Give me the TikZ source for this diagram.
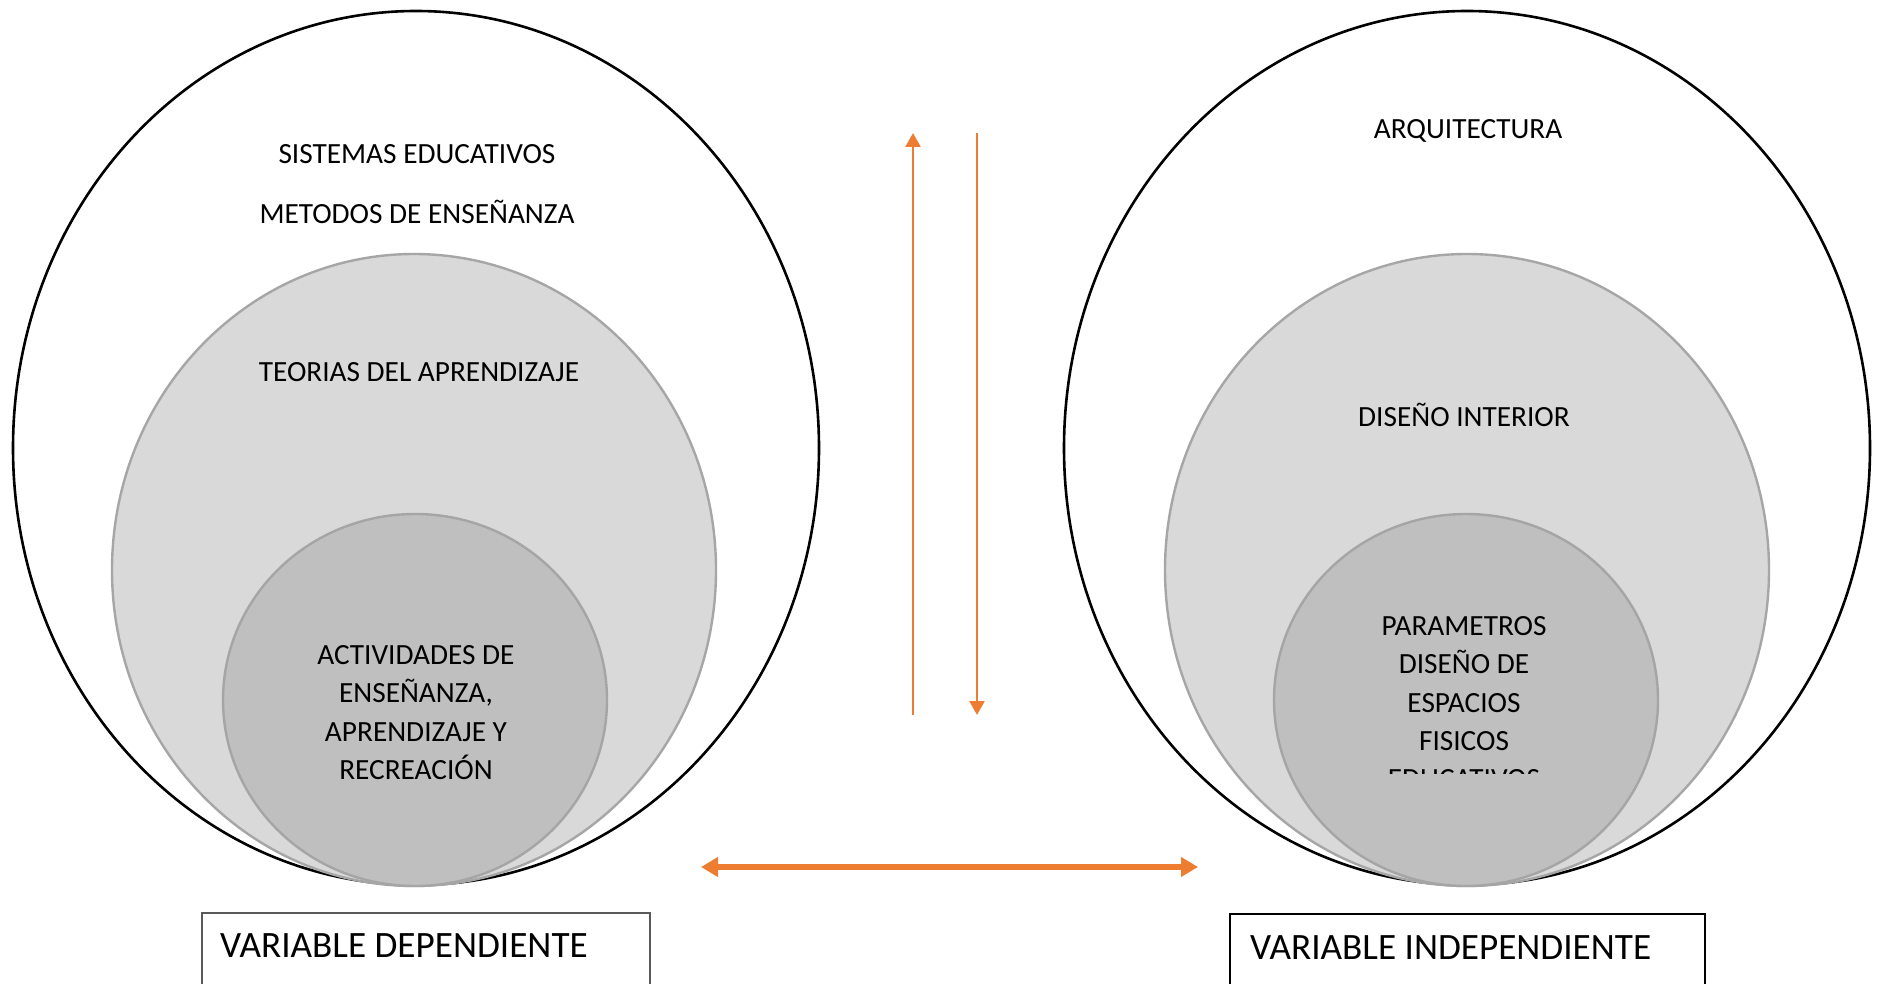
\documentclass[tikz,border=0pt]{standalone}
\usepackage{fontspec}
\setmainfont{Carlito}
\usetikzlibrary{shapes.geometric,arrows.meta}
\definecolor{accent}{HTML}{ED7D31}
\definecolor{midfill}{HTML}{D9D9D9}
\definecolor{midline}{HTML}{A6A6A6}
\definecolor{corefill}{HTML}{BFBFBF}
\definecolor{coreline}{HTML}{A5A5A5}
\definecolor{boxline}{HTML}{595959}

\begin{document}
\begin{tikzpicture}[x=1pt,y=-1pt,
  outerset/.style={ellipse, draw=black, line width=2.6pt, fill=white,
    minimum width=806pt, minimum height=874pt, inner sep=0pt, outer sep=0pt},
  midset/.style={ellipse, draw=midline, fill=midfill, line width=2.4pt,
    minimum width=604pt, minimum height=632pt, inner sep=0pt, outer sep=0pt},
  coreset/.style={ellipse, draw=coreline, fill=corefill, line width=2.4pt,
    minimum width=384pt, minimum height=372pt, inner sep=0pt, outer sep=0pt},
  lbl/.style={font=\fontsize{29.3}{38.4}\selectfont, inner sep=0pt, align=center},
  varbox/.style={draw=#1, line width=1.6pt, anchor=north west, inner sep=0pt,
    minimum height=100pt},
  varlbl/.style={font=\fontsize{37.2}{42}\selectfont, inner sep=0pt, anchor=base west},
  thinarrow/.style={draw=accent, line width=2.6pt,
    -{Triangle[width=15pt,length=14pt]}},
  widearrow/.style={draw=accent, line width=6pt,
    {Triangle[width=19pt,length=17pt]}-{Triangle[width=19pt,length=17pt]}}
]
\useasboundingbox (0,0) rectangle (1879,984);

% left group: dependent variable
\node[outerset] (outL) at (416,448) {};
\node[midset]   (midL) at (414,570) {};
\node[coreset]  (coreL) at (415,700) {};

\node[lbl, anchor=base] (sisL) at (417,164) {SISTEMAS EDUCATIVOS};
\node[lbl, anchor=base] (metL) at (417,224) {METODOS DE ENSEÑANZA};
\node[lbl, anchor=base] (teoL) at (419,381) {TEORIAS DEL APRENDIZAJE};
\node[lbl, anchor=north] (actL) at (416,645)
  {ACTIVIDADES DE\\ENSEÑANZA,\\APRENDIZAJE Y\\RECREACIÓN};

% right group: independent variable
\node[outerset] (outR) at (1467,448) {};
\node[midset]   (midR) at (1467,570) {};
\node[coreset]  (coreR) at (1466,700) {};

\node[lbl, anchor=base] (arqR) at (1468,139) {ARQUITECTURA};
\node[lbl, anchor=base] (disR) at (1464,426) {DISEÑO INTERIOR};
\begin{scope}
  \clip (1280,590) rectangle (1650,773);
  \node[lbl, anchor=north] (parR) at (1464,616)
    {PARAMETROS\\DISEÑO DE\\ESPACIOS\\FISICOS\\EDUCATIVOS};
\end{scope}

% relation arrows
\coordinate (upFoot) at (913,715);
\coordinate (upTip)  at (913,133);
\coordinate (dnTop)  at (977,133);
\coordinate (dnTip)  at (977,715);
\coordinate (hL) at (701,867);
\coordinate (hR) at (1198,867);
\draw[thinarrow] (upFoot) -- (upTip);
\draw[thinarrow] (dnTop) -- (dnTip);
\draw[widearrow] (hL) -- (hR);

% variable boxes
\node[varbox=boxline, minimum width=448pt] (boxL) at (201,912) {};
\node[varlbl] (txtL) at (220,957) {VARIABLE DEPENDIENTE};
\node[varbox=black, minimum width=475pt] (boxR) at (1229,913) {};
\node[varlbl] (txtR) at (1250,959) {VARIABLE INDEPENDIENTE};
\end{tikzpicture}
\end{document}
